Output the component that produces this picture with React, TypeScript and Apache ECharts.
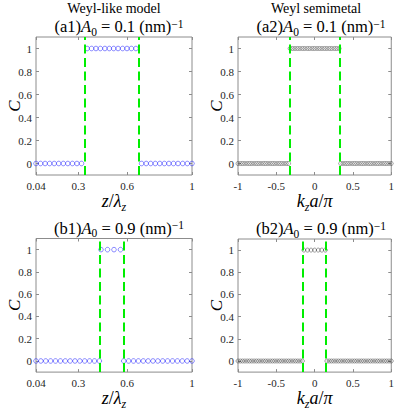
import React, { useEffect, useRef } from "react";
import * as echarts from "echarts";

// ---------------- data ----------------
// (a1) Weyl-like model, A0 = 0.1 (nm)^-1
const zA1 = [0.04, 0.068, 0.096, 0.124, 0.152, 0.18, 0.208, 0.236, 0.264, 0.292, 0.32,
  0.355, 0.382, 0.409, 0.436, 0.464, 0.491, 0.518, 0.545, 0.573, 0.6, 0.627, 0.655,
  0.69, 0.718, 0.746, 0.774, 0.802, 0.83, 0.858, 0.886, 0.914, 0.943, 0.971, 1];
const cA1 = [0, 0, 0, 0, 0, 0, 0, 0, 0, 0, 0,
  1, 1, 1, 1, 1, 1, 1, 1, 1, 1, 1, 1,
  0, 0, 0, 0, 0, 0, 0, 0, 0, 0, 0, 0];
const boundsA1 = [0.343, 0.666];

// (a2) Weyl semimetal, A0 = 0.1 (nm)^-1
const kA2 = [-1, -0.97, -0.94, -0.91, -0.88, -0.85, -0.82, -0.79, -0.76, -0.73, -0.7, -0.67,
  -0.64, -0.61, -0.58, -0.55, -0.52, -0.49, -0.46, -0.43, -0.4, -0.37, -0.34,
  -0.32, -0.288, -0.256, -0.224, -0.192, -0.16, -0.128, -0.096, -0.064, -0.032, 0,
  0.032, 0.064, 0.096, 0.128, 0.16, 0.192, 0.224, 0.256, 0.288, 0.32,
  0.34, 0.37, 0.4, 0.43, 0.46, 0.49, 0.52, 0.55, 0.58, 0.61, 0.64, 0.67, 0.7, 0.73,
  0.76, 0.79, 0.82, 0.85, 0.88, 0.91, 0.94, 0.97, 1];
const cA2 = [0, 0, 0, 0, 0, 0, 0, 0, 0, 0, 0, 0, 0, 0, 0, 0, 0, 0, 0, 0, 0, 0, 0,
  1, 1, 1, 1, 1, 1, 1, 1, 1, 1, 1, 1, 1, 1, 1, 1, 1, 1, 1, 1, 1,
  0, 0, 0, 0, 0, 0, 0, 0, 0, 0, 0, 0, 0, 0, 0, 0, 0, 0, 0, 0, 0, 0, 0];
const boundsA2 = [-0.33, 0.33];

// (b1) Weyl-like model, A0 = 0.9 (nm)^-1
const zB1 = [0.04, 0.07, 0.1, 0.13, 0.16, 0.19, 0.22, 0.25, 0.28, 0.31, 0.34, 0.37, 0.4, 0.43,
  0.44, 0.48, 0.52, 0.56,
  0.58, 0.61, 0.64, 0.67, 0.7, 0.73, 0.76, 0.79, 0.82, 0.85, 0.88, 0.91, 0.94, 0.97, 1];
const cB1 = [0, 0, 0, 0, 0, 0, 0, 0, 0, 0, 0, 0, 0, 0,
  1, 1, 1, 1,
  0, 0, 0, 0, 0, 0, 0, 0, 0, 0, 0, 0, 0, 0, 0];
const boundsB1 = [0.432, 0.578];

// (b2) Weyl semimetal, A0 = 0.9 (nm)^-1
const kB2 = [-1, -0.97, -0.94, -0.91, -0.88, -0.85, -0.82, -0.79, -0.76, -0.73, -0.7, -0.67,
  -0.64, -0.61, -0.58, -0.55, -0.52, -0.49, -0.46, -0.43, -0.4, -0.37, -0.34, -0.31,
  -0.28, -0.25, -0.22, -0.19, -0.16,
  -0.14, -0.093, -0.047, 0, 0.047, 0.093, 0.14,
  0.16, 0.19, 0.22, 0.25, 0.28, 0.31, 0.34, 0.37, 0.4, 0.43, 0.46, 0.49, 0.52, 0.55,
  0.58, 0.61, 0.64, 0.67, 0.7, 0.73, 0.76, 0.79, 0.82, 0.85, 0.88, 0.91, 0.94, 0.97, 1];
const cB2 = [0, 0, 0, 0, 0, 0, 0, 0, 0, 0, 0, 0, 0, 0, 0, 0, 0, 0, 0, 0, 0, 0, 0, 0, 0, 0, 0, 0, 0,
  1, 1, 1, 1, 1, 1, 1,
  0, 0, 0, 0, 0, 0, 0, 0, 0, 0, 0, 0, 0, 0, 0, 0, 0, 0, 0, 0, 0, 0, 0, 0, 0, 0, 0, 0, 0];
const boundsB2 = [-0.155, 0.155];

const zTicks = [0.04, 0.3, 0.6, 1];
const kTicks = [-1, -0.5, 0, 0.5, 1];
const cTicks = [0, 0.2, 0.4, 0.6, 0.8, 1];

const columnTitles = ["Weyl-like model", "Weyl semimetal"];
const panelLabels = ["a1", "a2", "b1", "b2"];
const a0Values = ["0.1", "0.1", "0.9", "0.9"];

// ---------------- styling ----------------
const FONT = "Liberation Serif";
const BOX = "#8c8c8c";
const TXT = "#262626";

const base = { fontFamily: FONT, fontWeight: "normal", color: "#000" };
const nameRich = {
  n: { ...base, fontSize: 18, lineHeight: 20 },
  i: { ...base, fontSize: 18, fontStyle: "italic", lineHeight: 20 },
  sub: { ...base, fontSize: 12, fontStyle: "italic", verticalAlign: "bottom", lineHeight: 12, padding: [0, 0, -2, 0] },
};
const titleRich = {
  n: { ...base, fontSize: 16.5, lineHeight: 18 },
  i: { ...base, fontSize: 16.5, fontStyle: "italic", lineHeight: 18 },
  subn: { ...base, fontSize: 11.5, verticalAlign: "bottom", lineHeight: 11, padding: [0, 0, -2, 0] },
  sup: { ...base, fontSize: 11.5, verticalAlign: "top", lineHeight: 11 },
};

const panels = [
  { rect: { left: 36, top: 37, width: 156, height: 138 }, xs: zA1, cs: cA1, bounds: boundsA1, min: 0.04, max: 1, ticks: zTicks, color: "#2b2bff", size: 4.6, bw: 0.7, xname: "{i|z}{n|/}{i|λ}{sub|z}" },
  { rect: { left: 238, top: 37, width: 156, height: 138 }, xs: kA2, cs: cA2, bounds: boundsA2, min: -1, max: 1, ticks: kTicks, color: "#333", size: 4, bw: 0.6, xname: "{i|k}{sub|z}{i|a}{n|/}{i|π}" },
  { rect: { left: 36, top: 238.5, width: 156, height: 137 }, xs: zB1, cs: cB1, bounds: boundsB1, min: 0.04, max: 1, ticks: zTicks, color: "#2b2bff", size: 4.6, bw: 0.7, xname: "{i|z}{n|/}{i|λ}{sub|z}" },
  { rect: { left: 238, top: 239, width: 156, height: 137 }, xs: kB2, cs: cB2, bounds: boundsB2, min: -1, max: 1, ticks: kTicks, color: "#333", size: 4, bw: 0.6, xname: "{i|k}{sub|z}{i|a}{n|/}{i|π}" },
];

function buildOption() {
  const grid: any[] = [];
  const xAxis: any[] = [];
  const yAxis: any[] = [];
  const series: any[] = [];
  const title: any[] = [];

  panels.forEach((p, i) => {
    grid.push({ ...p.rect, show: true, borderColor: BOX, borderWidth: 1, containLabel: false });
    const tickStyle = { lineStyle: { color: BOX, width: 1 } };
    const hiddenLine = { show: false, onZero: false };
    xAxis.push({
      gridIndex: i, type: "value", position: "bottom", min: p.min, max: p.max,
      axisLine: hiddenLine,
      axisTick: { inside: true, length: 3, customValues: p.ticks, ...tickStyle },
      axisLabel: { customValues: p.ticks, formatter: (v: number) => String(v), margin: 5, fontFamily: FONT, fontSize: 11, color: TXT, showMinLabel: true, showMaxLabel: true },
      splitLine: { show: false },
      name: p.xname, nameLocation: "middle", nameGap: 14,
      nameTextStyle: { rich: nameRich },
    });
    xAxis.push({
      gridIndex: i, type: "value", position: "top", min: p.min, max: p.max,
      axisLine: hiddenLine,
      axisTick: { inside: true, length: 3, customValues: p.ticks, ...tickStyle },
      axisLabel: { show: false },
      splitLine: { show: false },
    });
    yAxis.push({
      gridIndex: i, type: "value", position: "left", min: -0.1, max: 1.1,
      axisLine: hiddenLine,
      axisTick: { inside: true, length: 3, customValues: cTicks, ...tickStyle },
      axisLabel: { customValues: cTicks, formatter: (v: number) => String(v), margin: 4, fontFamily: FONT, fontSize: 11, color: TXT },
      splitLine: { show: false },
      name: "C", nameLocation: "middle", nameRotate: 90, nameGap: 13, nameMoveOverlap: false,
      nameTextStyle: { fontFamily: FONT, fontSize: 17, fontStyle: "italic", color: "#000" },
    });
    yAxis.push({
      gridIndex: i, type: "value", position: "right", min: -0.1, max: 1.1,
      axisLine: hiddenLine,
      axisTick: { inside: true, length: 3, customValues: cTicks, ...tickStyle },
      axisLabel: { show: false },
      splitLine: { show: false },
    });
    series.push({
      type: "scatter", xAxisIndex: 2 * i, yAxisIndex: 2 * i, clip: false,
      data: p.xs.map((x, k) => [x, p.cs[k]]),
      symbol: "circle", symbolSize: p.size,
      itemStyle: { color: "rgba(0,0,0,0)", borderColor: p.color, borderWidth: p.bw },
      markLine: {
        silent: true, symbol: ["none", "none"], label: { show: false },
        lineStyle: { color: "#00ee00", width: 2, type: [9, 4.5] },
        data: p.bounds.map((b) => ({ xAxis: b })),
      },
    });
    const cx = p.rect.left + p.rect.width / 2;
    title.push({
      text: `{n|(${panelLabels[i]})}{i|A}{subn|0}{n| = ${a0Values[i]} (nm)}{sup|−1}`,
      left: cx + 5, top: p.rect.top - 19.5, textAlign: "center", padding: 0,
      textStyle: { fontWeight: "normal", rich: titleRich },
    });
  });
  columnTitles.forEach((t, j) => {
    const p = panels[j];
    title.push({
      text: t, left: p.rect.left + p.rect.width / 2, top: 0, textAlign: "center", padding: 0,
      textStyle: { fontFamily: FONT, fontSize: 14, fontWeight: "normal", color: "#000", lineHeight: 16 },
    });
  });

  return { animation: false, backgroundColor: "#fff", title, grid, xAxis, yAxis, series };
}

export default function App() {
  const ref = useRef<HTMLDivElement>(null);
  useEffect(() => {
    if (!ref.current) return;
    const chart = echarts.init(ref.current, null, { renderer: "svg" });
    chart.setOption(buildOption() as any);
    return () => chart.dispose();
  }, []);
  return <div ref={ref} style={{ position: "fixed", left: 0, top: 0, width: 397, height: 411 }} />;
}
